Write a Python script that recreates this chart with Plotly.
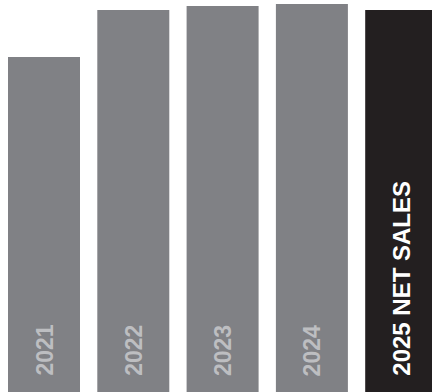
import plotly.graph_objects as go

categories = ["2021", "2022", "2023", "2024", "2025"]
values = [335, 382, 386, 388, 382]
labels = ["2021", "2022", "2023", "2024", "2025 NET SALES"]
bar_colors = ["#808185", "#808185", "#808185", "#808185", "#231f20"]
label_colors = ["#bdbec1", "#bdbec1", "#bdbec1", "#bdbec1", "#ffffff"]
label_sizes = [23, 23, 23, 23, 24]

PITCH = 89.3
X0 = 44

fig = go.Figure()
fig.add_trace(go.Bar(
    x=list(range(len(categories))),
    y=values,
    marker=dict(color=bar_colors, line=dict(width=0)),
    width=72 / PITCH,
    hoverinfo="skip",
))

for i, (lab, col, sz) in enumerate(zip(labels, label_colors, label_sizes)):
    fig.add_annotation(
        x=i, y=0, xref="x", yref="y",
        text="<b>%s</b>" % lab,
        showarrow=False,
        textangle=-90,
        xanchor="center", yanchor="bottom",
        yshift=14,
        font=dict(family="Liberation Sans, Arial, sans-serif", size=sz, color=col),
    )

fig.update_layout(
    width=432, height=392,
    margin=dict(l=0, r=0, t=0, b=0),
    paper_bgcolor="white", plot_bgcolor="white",
    showlegend=False,
    xaxis=dict(range=[-X0 / PITCH, (432 - X0) / PITCH], visible=False, fixedrange=True),
    yaxis=dict(range=[0, 392], visible=False, fixedrange=True),
)

fig.write_html("out.html")
